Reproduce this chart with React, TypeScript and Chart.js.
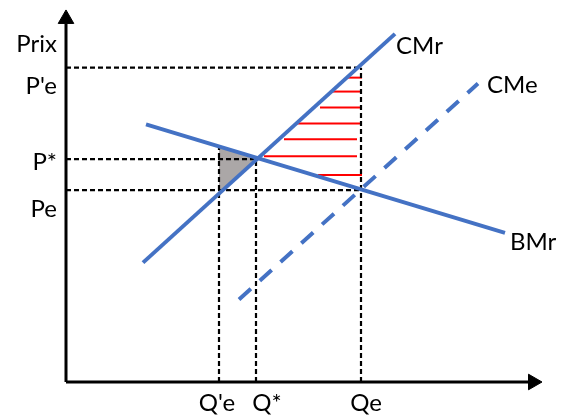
import React, { useEffect, useRef } from "react";
import { Chart, registerables } from "chart.js";

Chart.register(...registerables);

// ---- data (chart units: x = quantity, y = price) ----
const axisTitleY = "Prix";
const quantityLabels = ["Q'e", "Q*", "Qe"];
const quantityValues = [153, 190, 295];
const priceLabels = ["P'e", "P*", "Pe"];
const priceValues = [316, 224, 193];

const curveNames = ["CMr", "CMe", "BMr"];
const cmrLine = [
  { x: 77, y: 120 },
  { x: 329, y: 350 },
];
const cmeLine = [
  { x: 173, y: 83 },
  { x: 412, y: 300 },
];
const bmrLine = [
  { x: 80, y: 259 },
  { x: 439, y: 150 },
];

const triangle = [
  { x: 153, y: 237 },
  { x: 190, y: 224 },
  { x: 153, y: 191 },
];

const hatchY = [306, 292, 276, 260, 244, 227, 208];
const hatchStart = [282, 266, 254, 230, 218, 198, 252];
const hatchEnd = [296, 296, 294, 296, 291, 291, 296];

const xAxisMax = 476;
const yAxisMax = 374;

const BLUE = "#4472C4";

export default function App() {
  const canvasRef = useRef<HTMLCanvasElement | null>(null);

  useEffect(() => {
    const canvas = canvasRef.current;
    if (!canvas) return;

    const base = { showLine: true, pointRadius: 0, clip: false as any, fill: false };
    const datasets: any[] = [];

    // axes
    datasets.push({
      ...base,
      data: [{ x: 0, y: 0 }, { x: 0, y: 360 }],
      borderColor: "#000",
      borderWidth: 3,
      order: 0,
    });
    datasets.push({
      ...base,
      data: [{ x: 0, y: 0 }, { x: 462, y: 0 }],
      borderColor: "#000",
      borderWidth: 3,
      order: 0,
    });
    datasets.push({
      showLine: false,
      clip: false,
      data: [{ x: 0, y: 365 }, { x: 467, y: 0 }],
      pointStyle: "triangle",
      pointRadius: 9,
      rotation: [0, 90] as any,
      pointRotation: [0, 90] as any,
      backgroundColor: "#000",
      borderColor: "#000",
      borderWidth: 1,
      order: 0,
    });

    // curves
    datasets.push({ ...base, data: cmrLine, borderColor: BLUE, borderWidth: 4, order: 1 });
    datasets.push({
      ...base,
      data: cmeLine,
      borderColor: BLUE,
      borderWidth: 4,
      borderDash: [16, 12],
      order: 1,
    });
    datasets.push({ ...base, data: bmrLine, borderColor: BLUE, borderWidth: 4, order: 1 });

    // dashed guides
    const hEnds = [quantityValues[2], quantityValues[1], quantityValues[2]];
    priceValues.forEach((p, i) => {
      datasets.push({
        ...base,
        data: [{ x: 0, y: p }, { x: hEnds[i], y: p }],
        borderColor: "#000",
        borderWidth: 2.2,
        borderDash: [5, 3],
        order: 2,
      });
    });
    const vTops = [triangle[0].y, priceValues[1], priceValues[0]];
    quantityValues.forEach((q, i) => {
      datasets.push({
        ...base,
        data: [{ x: q, y: 0 }, { x: q, y: vTops[i] }],
        borderColor: "#000",
        borderWidth: 2.2,
        borderDash: [5, 3],
        order: 2,
      });
    });

    // red hatches
    hatchY.forEach((h, i) => {
      datasets.push({
        ...base,
        data: [{ x: hatchStart[i], y: h }, { x: hatchEnd[i], y: h }],
        borderColor: "#FF0000",
        borderWidth: 2,
        order: 3,
      });
    });

    // grey triangle (fill between top and bottom edges)
    const topIdx = datasets.length;
    datasets.push({
      ...base,
      data: [triangle[0], triangle[1]],
      borderWidth: 0,
      borderColor: "rgba(0,0,0,0)",
      backgroundColor: "#ABA7A7",
      fill: topIdx + 1,
      order: 4,
    });
    datasets.push({
      ...base,
      data: [triangle[2], triangle[1]],
      borderWidth: 0,
      borderColor: "rgba(0,0,0,0)",
      order: 4,
    });

    const labelPlugin = {
      id: "textLabels",
      afterDraw(chart: any) {
        const { ctx } = chart;
        const xs = chart.scales.x;
        const ys = chart.scales.y;
        ctx.save();
        ctx.font = "24px Lato";
        ctx.fillStyle = "#000";
        ctx.textBaseline = "middle";

        const axisX = xs.getPixelForValue(0);
        const axisY = ys.getPixelForValue(0);

        // y axis title and price labels
        ctx.textAlign = "right";
        ctx.fillText(axisTitleY, axisX - 9, ys.getPixelForValue(yAxisMax) + 34);
        const pOff = [19, 3, 19];
        priceLabels.forEach((t, i) => {
          ctx.fillText(t, axisX - 9, ys.getPixelForValue(priceValues[i]) + pOff[i]);
        });

        // quantity labels
        ctx.textAlign = "center";
        const qOff = [-2, 11, 5];
        quantityLabels.forEach((t, i) => {
          ctx.fillText(t, xs.getPixelForValue(quantityValues[i]) + qOff[i], axisY + 21);
        });

        // curve names
        ctx.textAlign = "left";
        const ends = [cmrLine[1], cmeLine[1], bmrLine[1]];
        const cOff = [
          [1, 12],
          [9, 1.5],
          [5, 9.5],
        ];
        curveNames.forEach((t, i) => {
          ctx.fillText(
            t,
            xs.getPixelForValue(ends[i].x) + cOff[i][0],
            ys.getPixelForValue(ends[i].y) + cOff[i][1]
          );
        });
        ctx.restore();
      },
    };

    const chart = new Chart(canvas, {
      type: "scatter",
      data: { datasets },
      options: {
        animation: false,
        responsive: false,
        devicePixelRatio: window.devicePixelRatio || 1,
        layout: { padding: { left: 66, right: 20, top: 8, bottom: 38 } },
        scales: {
          x: { type: "linear", min: 0, max: xAxisMax, display: false },
          y: { type: "linear", min: 0, max: yAxisMax, display: false },
        },
        plugins: {
          legend: { display: false },
          tooltip: { enabled: false },
        },
        elements: { line: { tension: 0 } },
      },
      plugins: [labelPlugin],
    });

    return () => chart.destroy();
  }, []);

  return (
    <div style={{ position: "absolute", left: 0, top: 0, width: 562, height: 420, background: "#fff" }}>
      <canvas ref={canvasRef} width={562} height={420} style={{ width: 562, height: 420 }} />
    </div>
  );
}
